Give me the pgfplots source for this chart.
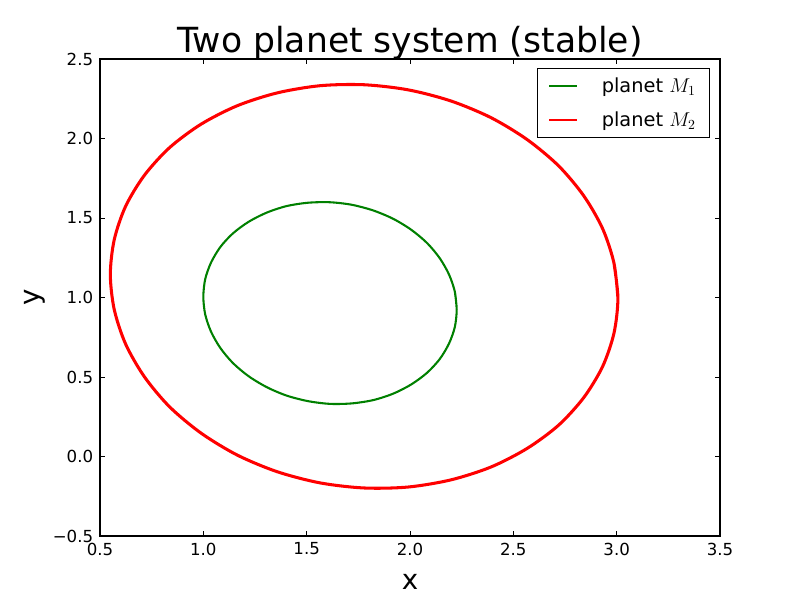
\documentclass[border=0pt]{standalone}
\usepackage{fontspec}
\setmainfont{DejaVu Sans}
\usepackage{pgfplots}
\pgfplotsset{compat=1.18}
\definecolor{mgreen}{rgb}{0,0.5,0}
\begin{document}
\begin{tikzpicture}
\path[use as bounding box] (0,0) rectangle (8in,5.96in);
\begin{axis}[
  at={(1in,0.6in)}, anchor=south west,
  scale only axis, width=6.2in, height=4.77in,
  xmin=0.5, xmax=3.5, ymin=-0.5, ymax=2.5,
  xtick={0.5,1.0,1.5,2.0,2.5,3.0,3.5},
  xticklabels={0.5,1.0,1.5,2.0,2.5,3.0,3.5},
  ytick={-0.5,0.0,0.5,1.0,1.5,2.0,2.5},
  yticklabels={−0.5,0.0,0.5,1.0,1.5,2.0,2.5},
  tick align=inside, major tick length=0.05in,
  tick style={black, line width=0.6pt},
  axis line style={line width=0.8pt},
  ticklabel style={font=\fontsize{12}{14}\selectfont},
  xticklabel style={yshift=-0.02in},
  yticklabel style={xshift=-0.02in},
  title={\fontsize{25}{30}\selectfont Two planet system (stable)},
  title style={yshift=-0.14in},
  xlabel={\fontsize{20}{24}\selectfont x},
  ylabel={\fontsize{20}{24}\selectfont y},
  xlabel style={yshift=-0.09in},
  ylabel style={yshift=-0.02in},
  legend style={at={(0.984,0.981)}, anchor=north east, draw=black, line width=0.8pt,
    font=\fontsize{14}{17}\selectfont, inner xsep=0.11in, inner ysep=0.06in,
    row sep=0.12in, column sep=0.21in, cells={anchor=west}},
  legend image code/.code={\draw[#1, line width=1.15pt] (0,0) -- (0.28in,0);},
]
\addplot[mgreen, line width=1.5pt, smooth] coordinates {
(2.226,0.925) (2.217,1.036) (2.189,1.144) (2.144,1.247) (2.083,1.342) (2.007,1.425)
(1.920,1.494) (1.823,1.547) (1.719,1.583) (1.613,1.599) (1.507,1.596) (1.403,1.575)
(1.307,1.534) (1.219,1.476) (1.143,1.403) (1.082,1.317) (1.037,1.219) (1.009,1.115)
(1.000,1.005) (1.009,0.894) (1.037,0.786) (1.082,0.683) (1.143,0.588) (1.219,0.505)
(1.307,0.436) (1.403,0.383) (1.507,0.348) (1.613,0.331) (1.719,0.334) (1.823,0.355)
(1.920,0.396) (2.007,0.454) (2.083,0.527) (2.144,0.613) (2.189,0.711) (2.217,0.815)
(2.226,0.925) (2.217,1.036)
};
\addlegendentry{planet $M_1$}
\addplot[red, line width=2.2pt, smooth] coordinates {
(3.006,0.995) (2.987,1.216) (2.932,1.433) (2.841,1.639) (2.719,1.828) (2.567,1.993)
(2.392,2.131) (2.198,2.236) (1.991,2.306) (1.778,2.338) (1.565,2.332) (1.358,2.287)
(1.164,2.206) (0.989,2.090) (0.837,1.943) (0.715,1.769) (0.624,1.574) (0.569,1.364)
(0.550,1.145) (0.569,0.924) (0.624,0.707) (0.715,0.501) (0.837,0.312) (0.989,0.147)
(1.164,0.009) (1.358,-0.096) (1.565,-0.166) (1.778,-0.198) (1.991,-0.192) (2.198,-0.147)
(2.392,-0.066) (2.567,0.051) (2.719,0.197) (2.841,0.371) (2.932,0.566) (2.987,0.776)
(3.006,0.995) (2.987,1.216)
};
\addlegendentry{planet $M_2$}
\end{axis}
\end{tikzpicture}
\end{document}
